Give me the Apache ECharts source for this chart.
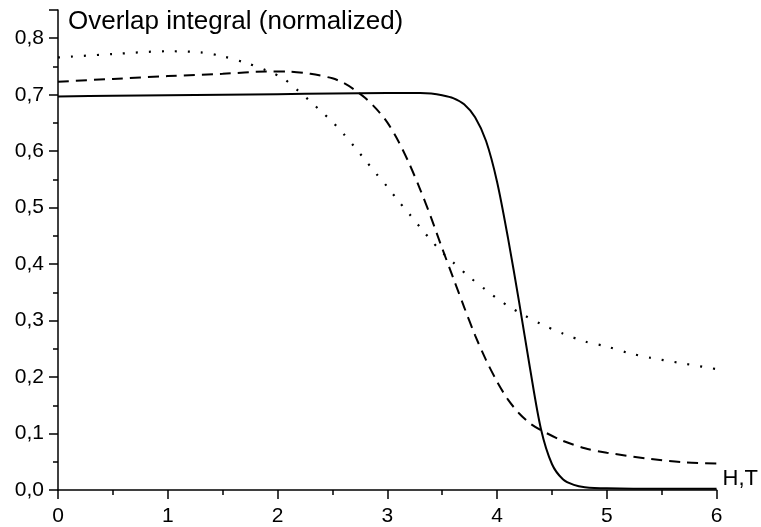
<!DOCTYPE html>
<html>
<head>
<meta charset="utf-8">
<script src="https://cdn.jsdelivr.net/npm/echarts@6/dist/echarts.min.js"></script>
<style>
  html, body { margin: 0; padding: 0; background: #fff; }
  #chart { width: 761px; height: 527px; }
</style>
</head>
<body>
<div id="chart"></div>
<script>
// field H (T) and normalized overlap integral for the three curves
const solidH = [0, 0.5, 1, 1.5, 2, 2.5, 3, 3.3, 3.4, 3.5, 3.6, 3.7, 3.8, 3.9, 4.0, 4.1, 4.2, 4.3, 4.4, 4.5, 4.6, 4.7, 4.8, 5.0, 5.5, 6.0];
const solidV = [0.697, 0.698, 0.699, 0.700, 0.701, 0.702, 0.703, 0.703, 0.702, 0.699, 0.694, 0.683, 0.660, 0.618, 0.546, 0.446, 0.334, 0.216, 0.108, 0.046, 0.019, 0.009, 0.005, 0.003, 0.002, 0.002];

const dashedH = [0, 0.5, 1.0, 1.5, 1.9, 2.1, 2.3, 2.5, 2.6, 2.7, 2.8, 2.9, 3.0, 3.1, 3.2, 3.3, 3.4, 3.5, 3.6, 3.7, 3.8, 3.9, 4.0, 4.1, 4.2, 4.3, 4.4, 4.6, 4.8, 5.0, 5.4, 5.7, 6.0];
const dashedV = [0.723, 0.728, 0.733, 0.737, 0.741, 0.741, 0.737, 0.729, 0.721, 0.709, 0.694, 0.675, 0.651, 0.618, 0.578, 0.532, 0.482, 0.428, 0.376, 0.324, 0.274, 0.230, 0.192, 0.160, 0.136, 0.118, 0.106, 0.087, 0.074, 0.066, 0.055, 0.049, 0.047];

const dottedH = [0, 0.5, 1.0, 1.3, 1.5, 1.7, 1.9, 2.05, 2.2, 2.3, 2.4, 2.5, 2.6, 2.7, 2.8, 2.9, 3.0, 3.1, 3.2, 3.3, 3.4, 3.5, 3.6, 3.75, 3.9, 4.0, 4.1, 4.25, 4.4, 4.6, 4.8, 5.0, 5.2, 5.4, 5.7, 6.0];
const dottedV = [0.766, 0.772, 0.777, 0.775, 0.768, 0.757, 0.743, 0.729, 0.705, 0.688, 0.670, 0.652, 0.631, 0.608, 0.584, 0.560, 0.537, 0.512, 0.489, 0.465, 0.442, 0.421, 0.403, 0.377, 0.354, 0.339, 0.326, 0.309, 0.294, 0.277, 0.263, 0.254, 0.2425, 0.234, 0.224, 0.214];

const titleText = 'Overlap integral (normalized)';
const xName = 'H,T';

function pairs(xs, ys) {
  return xs.map((x, i) => [x, ys[i]]);
}

const font = 'Liberation Sans, Arial, Helvetica, sans-serif';
const chart = echarts.init(document.getElementById('chart'));

chart.setOption({
  animation: false,
  backgroundColor: '#fff',
  title: {
    text: titleText,
    left: 63,
    top: 4,
    textStyle: { fontFamily: font, fontSize: 26, fontWeight: 'normal', color: '#000' }
  },
  grid: { left: 58, right: 44, top: 10, bottom: 34 },
  xAxis: {
    type: 'value',
    min: 0,
    max: 6,
    interval: 1,
    name: xName,
    nameLocation: 'end',
    nameGap: 6,
    nameTextStyle: { fontFamily: font, fontSize: 22, color: '#000', verticalAlign: 'bottom', padding: [0, 0, 0, 0] },
    axisLine: { lineStyle: { color: '#000', width: 1.5 } },
    axisTick: { length: 9, lineStyle: { color: '#000', width: 1.5 } },
    minorTick: { show: true, splitNumber: 2, length: 5, lineStyle: { color: '#000', width: 1.5 } },
    splitLine: { show: false },
    axisLabel: { fontFamily: font, fontSize: 21, color: '#000', margin: 16 }
  },
  yAxis: {
    type: 'value',
    min: 0,
    max: 0.85,
    interval: 0.1,
    axisLine: { show: true, lineStyle: { color: '#000', width: 1.5 } },
    axisTick: { show: true, length: 9, lineStyle: { color: '#000', width: 1.5 } },
    minorTick: { show: true, splitNumber: 2, length: 5, lineStyle: { color: '#000', width: 1.5 } },
    splitLine: { show: false },
    axisLabel: {
      fontFamily: font, fontSize: 21, color: '#000', margin: 14,
      formatter: v => (Math.abs(v * 10 - Math.round(v * 10)) < 1e-6 ? v.toFixed(1).replace('.', ',') : '')
    }
  },
  series: [
    {
      type: 'line', data: pairs(solidH, solidV), showSymbol: false, smooth: 0.3,
      lineStyle: { color: '#000', width: 2, type: 'solid' }
    },
    {
      type: 'line', data: pairs(dashedH, dashedV), showSymbol: false, smooth: 0.3,
      lineStyle: { color: '#000', width: 2, type: [11, 7] }
    },
    {
      type: 'line', data: pairs(dottedH, dottedV), showSymbol: false, smooth: 0.3,
      lineStyle: { color: '#000', width: 2.2, type: [2, 11] }
    }
  ]
});
</script>
</body>
</html>
